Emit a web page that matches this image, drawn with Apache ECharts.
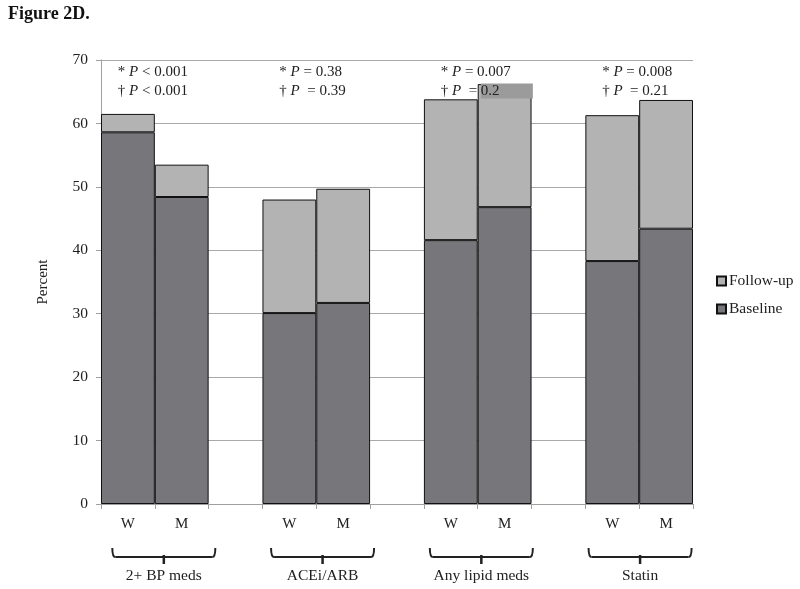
<!DOCTYPE html>
<html><head><meta charset="utf-8">
<script src="https://cdn.jsdelivr.net/npm/echarts@6/dist/echarts.min.js"></script>
<style>html,body{margin:0;padding:0;background:#fff}#c{width:800px;height:589px}</style>
</head><body><div id="c"></div>
<script>
const categories = ['W','M','','W','M','','W','M','','W','M'];
const baseline = [58.6, 48.4, '-', 30.1, 31.7, '-', 41.6, 46.8, '-', 38.3, 43.4];
const followUp = [2.9, 5.1, '-', 17.9, 18.0, '-', 22.2, 19.4, '-', 23.0, 20.3];
const groups = ['2+ BP meds', 'ACEi/ARB', 'Any lipid meds', 'Statin'];
const groupIdx = [[0,1],[3,4],[6,7],[9,10]];
const pStar = ['< 0.001', '= 0.38', '= 0.007', '= 0.008'];
const pDagger = ['< 0.001', ' = 0.39', ' = 0.2', ' = 0.21'];
const yTicks = [0,10,20,30,40,50,60,70];

const FONT = '"Liberation Serif", "DejaVu Serif", serif';
const chart = echarts.init(document.getElementById('c'));
chart.setOption({
  animation: false,
  backgroundColor: '#fff',
  textStyle: { fontFamily: FONT },
  title: { text: 'Figure 2D.', left: 3, top: 0, textStyle: { fontFamily: FONT, fontWeight: 'bold', fontSize: 18, color: '#111' } },
  grid: { left: 101, right: 107, top: 60, bottom: 85 },
  legend: {
    data: ['Follow-up', 'Baseline'], orient: 'vertical', left: 711, top: 268,
    itemWidth: 9, itemHeight: 9, itemGap: 12, icon: 'rect',
    textStyle: { fontFamily: FONT, fontSize: 15.5, color: '#222', padding: [0,0,0,-2] }
  },
  xAxis: {
    type: 'category', data: categories,
    axisLine: { lineStyle: { color: '#a0a0a0' } },
    axisTick: { show: true, interval: 0, length: 5, lineStyle: { color: '#a0a0a0' } },
    axisLabel: { interval: 0, margin: 13, fontFamily: FONT, fontSize: 15, color: '#222' }
  },
  yAxis: {
    type: 'value', min: yTicks[0], max: yTicks[yTicks.length-1], interval: 10,
    name: 'Percent', nameLocation: 'middle', nameGap: 50, nameRotate: 90,
    nameTextStyle: { fontFamily: FONT, fontSize: 15, color: '#222' },
    axisLine: { show: true, lineStyle: { color: '#a0a0a0' } },
    axisTick: { show: true, length: 5, lineStyle: { color: '#a0a0a0' } },
    axisLabel: { margin: 13, fontFamily: FONT, fontSize: 15.5, color: '#222' },
    splitLine: { lineStyle: { color: '#a9a9a9', width: 1 } }
  },
  series: [
    { name: 'Baseline', type: 'bar', stack: 's', data: baseline, barCategoryGap: '0%',
      itemStyle: { color: '#77777b', borderColor: '#111', borderWidth: 1 } },
    { name: 'Follow-up', type: 'bar', stack: 's', data: followUp, barCategoryGap: '0%',
      itemStyle: { color: '#b3b3b3', borderColor: '#111', borderWidth: 1 } }
  ]
});

function px(i) { return chart.convertToPixel({ xAxisIndex: 0 }, i); }
const graphics = [];
const rich = {
  n: { fontFamily: FONT, fontSize: 15, fill: '#222' },
  i: { fontFamily: FONT, fontSize: 15, fontStyle: 'italic', fill: '#222' },
  b: { fontFamily: FONT, fontSize: 15, fill: '#222', backgroundColor: '#9b9b9b', width: 52, height: 15 }
};
const braceStyle = { stroke: '#222', lineWidth: 2, fill: null };
groupIdx.forEach((g, k) => {
  const mid = (px(g[0]) + px(g[1])) / 2;
  const tx = mid - 37;
  graphics.push({ type: 'text', x: tx, y: 72, style: { rich: rich, text: '{n|* }{i|P}{n| ' + pStar[k] + '}', textVerticalAlign: 'middle' } });
  let t2 = '{n|\u2020 }{i|P}{n| ' + pDagger[k] + '}';
  if (k === 2) {
    const parts = pDagger[k].trim().split(' ');
    t2 = '{n|\u2020 }{i|P}{n|  ' + parts[0] + ' }{b|' + parts[1] + '}';
  }
  graphics.push({ type: 'text', x: tx, y: 91, z: 100, style: { rich: rich, text: t2, textVerticalAlign: 'middle' } });
  const xc = mid + 9 - 2.7 * k, x0 = xc - 51.5, x1 = xc + 51.5;
  const yt = 548, yb = 557, yd = 564, r = 3;
  graphics.push({ type: 'bezierCurve', shape: { x1: x0, y1: yt, cpx1: x0, cpy1: yb, x2: x0 + r, y2: yb }, style: braceStyle });
  graphics.push({ type: 'line', shape: { x1: x0 + r, y1: yb, x2: x1 - r, y2: yb }, style: braceStyle });
  graphics.push({ type: 'line', shape: { x1: xc, y1: yb - 2, x2: xc, y2: yd }, style: { stroke: '#222', lineWidth: 2.5 } });
  graphics.push({ type: 'bezierCurve', shape: { x1: x1 - r, y1: yb, cpx1: x1, cpy1: yb, x2: x1, y2: yt }, style: braceStyle });
  graphics.push({ type: 'text', x: xc, y: 576, style: { text: groups[k], font: '15.5px ' + FONT, fill: '#222', textAlign: 'center', textVerticalAlign: 'middle' } });
});
chart.setOption({ graphic: graphics });
</script></body></html>
